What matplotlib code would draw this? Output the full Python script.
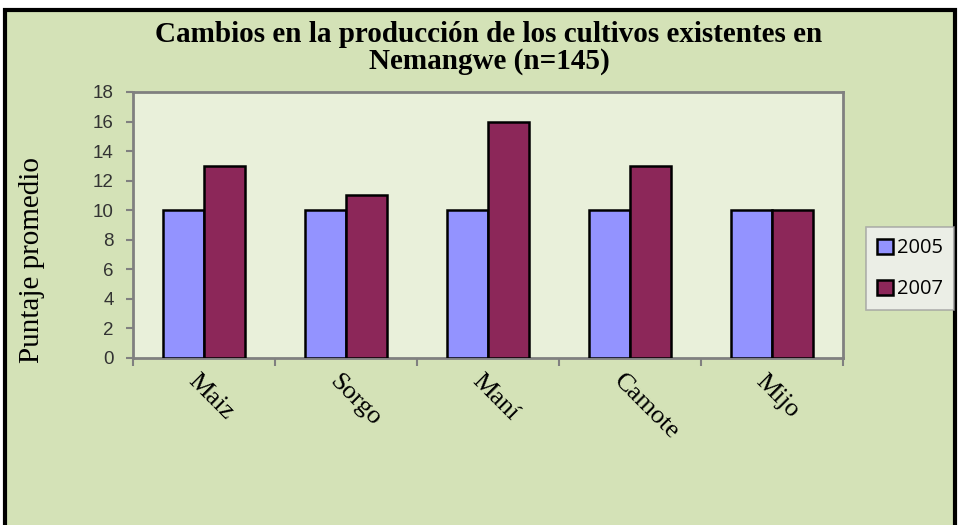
import numpy as np
import matplotlib.pyplot as plt
from matplotlib.patches import Rectangle
import matplotlib.transforms as mtransforms

# Datos
cultivos = ['Maiz', 'Sorgo', 'Maní', 'Camote', 'Mijo']
valores_2005 = [10, 10, 10, 10, 10]
valores_2007 = [13, 11, 16, 13, 10]
series = ['2005', '2007']
yticks = [0, 2, 4, 6, 8, 10, 12, 14, 16, 18]

fondo = '#d4e2b7'
fondo_grafico = '#e9f0da'
color_2005 = '#9393ff'
color_2007 = '#8c2759'

fig = plt.figure(figsize=(9.6, 5.25), dpi=100)
fig.patch.set_facecolor('white')

# Marco verde con borde negro
marco = Rectangle((5 / 960, -0.05), 950 / 960, (525 - 10) / 525 + 0.05,
                  transform=fig.transFigure, facecolor=fondo,
                  edgecolor='black', linewidth=3, zorder=-10)
fig.patches.append(marco)

ax = fig.add_axes([133 / 960, 167 / 525, 710 / 960, 266 / 525])
ax.set_facecolor(fondo_grafico)

x = np.arange(len(cultivos))
ancho = 0.29
ax.bar(x - ancho / 2, valores_2005, ancho, color=color_2005,
       edgecolor='black', linewidth=1.8, label=series[0], zorder=3)
ax.bar(x + ancho / 2, valores_2007, ancho, color=color_2007,
       edgecolor='black', linewidth=1.8, label=series[1], zorder=3)

ax.set_xlim(-0.5, len(cultivos) - 0.5)
ax.set_ylim(0, 18)
ax.set_yticks(yticks)
ax.set_yticklabels([str(v) for v in yticks], family='Liberation Sans',
                   fontsize=13.5, color='#333333')
ax.tick_params(axis='y', direction='out', length=5, color='#808080',
               width=1.5, pad=9)

# ticks del eje x en los limites de las categorias
ax.set_xticks(np.arange(len(cultivos) + 1) - 0.5)
ax.set_xticklabels([])
ax.tick_params(axis='x', direction='out', length=6, color='#808080', width=1.5)

for s in ax.spines.values():
    s.set_color('#808080')
    s.set_linewidth(2)

# etiquetas de categorias rotadas
offset = mtransforms.offset_copy(ax.get_xaxis_transform(), fig=fig,
                                 x=-5, y=-12, units='dots')
for i, nombre in enumerate(cultivos):
    ax.text(i, 0, nombre, transform=offset, rotation=-45,
            rotation_mode='anchor', ha='left', va='top',
            family='Liberation Serif', fontsize=19, color='black')

ax.set_ylabel('Puntaje promedio', family='Liberation Serif', fontsize=21)
ax.yaxis.set_label_coords(-88 / 710, (358 - 260) / 266)

fig.text(489 / 960, 1 - 48 / 525,
         'Cambios en la producción de los cultivos existentes en\nNemangwe (n=145)',
         ha='center', va='center', family='Liberation Serif',
         fontweight='bold', fontsize=21, linespacing=1.0)

leg = ax.legend(loc='upper left', bbox_to_anchor=(866 / 960, 1 - 227 / 525),
                bbox_transform=fig.transFigure, frameon=True, fancybox=False,
                handlelength=0.77, handleheight=0.77, handletextpad=0.2,
                labelspacing=1.05, borderpad=0.55, borderaxespad=0,
                prop={'family': 'Open Sans', 'size': 14.5})
leg.get_frame().set_facecolor('#f2f2f2')
leg.get_frame().set_edgecolor('#a0a0a0')
leg.get_frame().set_linewidth(1.2)
for h in leg.legend_handles:
    h.set_linewidth(1.8)

fig.savefig('out.png', dpi=100, facecolor=fig.get_facecolor())
